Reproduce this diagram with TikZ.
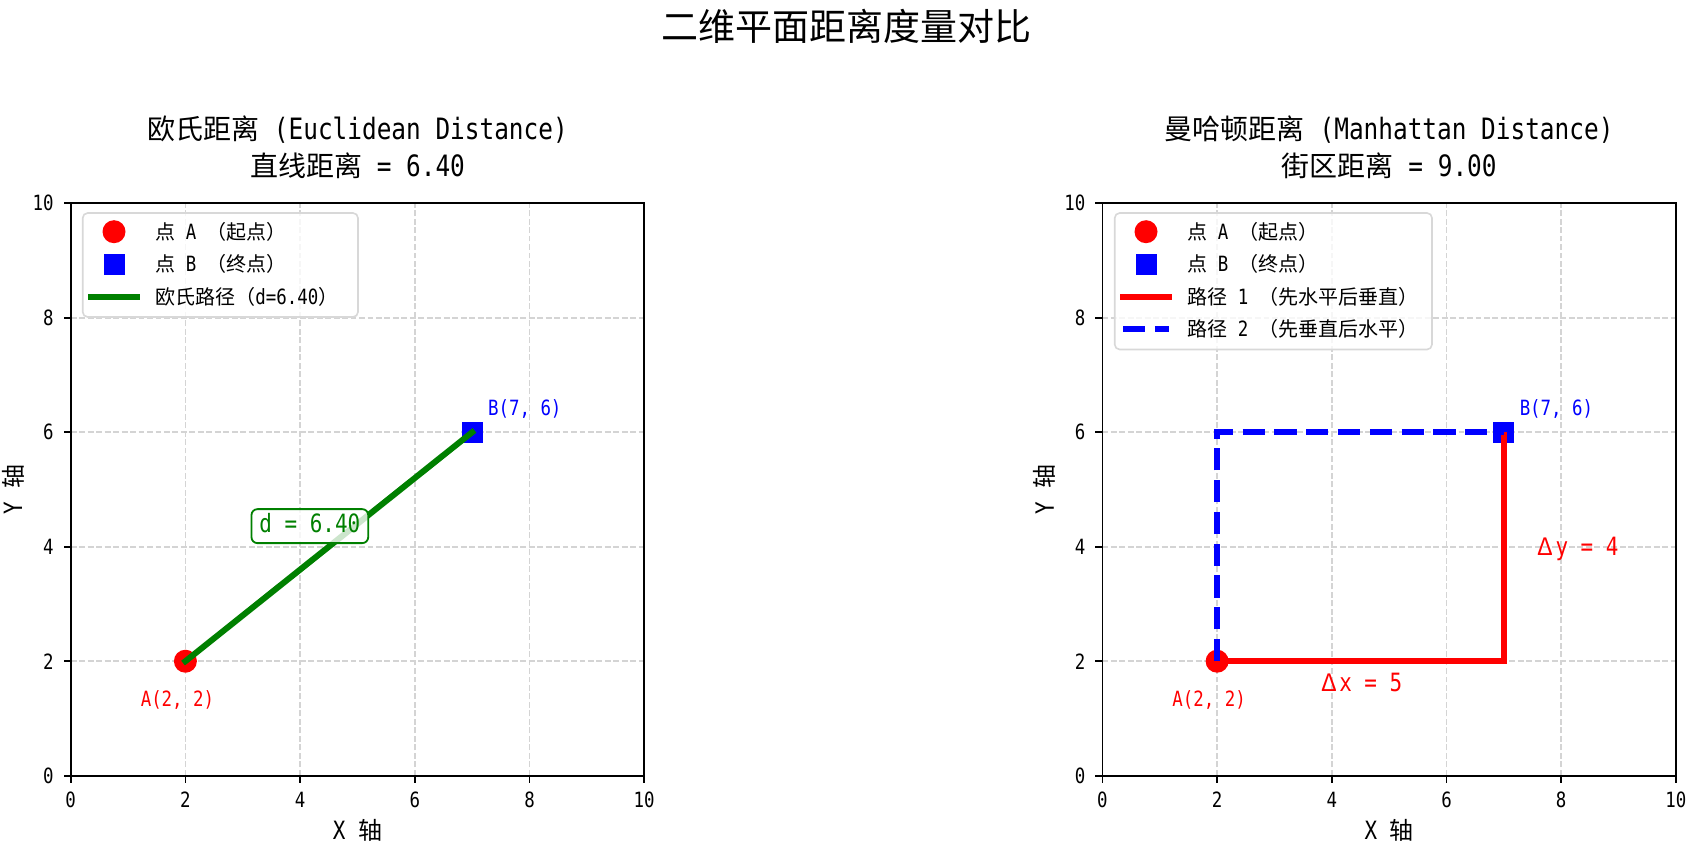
\documentclass[tikz,border=0pt]{standalone}
\usepackage{fontspec}
\setmainfont{DejaVu Sans Mono}[FakeStretch=0.83, Scale=1.05]
\newfontfamily\cjk{Noto Sans CJK SC}
\definecolor{mplgreen}{RGB}{0,128,0}
\definecolor{gridc}{RGB}{212,212,212}
\definecolor{legc}{RGB}{216,216,216}
\tikzset{
  gridline/.style={gridc, line width=0.8pt, dash pattern=on 2.96pt off 1.28pt},
  framel/.style={black, line width=0.8pt},
  ticklab/.style={font=\fontsize{10}{12}\selectfont, inner sep=0pt},
  axlab/.style={font=\fontsize{12}{14}\selectfont, inner sep=0pt},
  ttl/.style={font=\fontsize{14}{17}\selectfont, inner sep=0pt},
  suptl/.style={font=\fontsize{18.5}{22}\selectfont, inner sep=0pt},
  ptA/.style={circle, fill=red, minimum size=11.5pt, inner sep=0pt},
  ptB/.style={rectangle, fill=blue, minimum size=10.5pt, inner sep=0pt},
  legbox/.style={rounded corners=2.5pt, fill=white, fill opacity=0.8, draw=legc, line width=0.8pt},
  legtxt/.style={font=\fontsize{10}{12}\selectfont, anchor=west, inner sep=0pt},
  ptlab/.style={font=\fontsize{10}{12}\selectfont, inner sep=0pt},
  dlab/.style={font=\fontsize{12}{14}\selectfont, inner sep=0pt},
  thick3/.style={line width=3pt},
  dash3/.style={line width=3pt, dash pattern=on 11.1pt off 4.8pt},
}
\newcommand\DrawMyAxes[1]{%
  \foreach \v in {2,4,6,8} {
    \draw[gridline] (\v,0) -- (\v,10);
    \draw[gridline] (0,\v) -- (10,\v);
  }
  \draw[framel] (0,0) rectangle (10,10);
  \foreach \v in {0,2,4,6,8,10} {
    \draw[framel] (\v,0) -- ++(0,-3.5pt);
    \draw[framel] (0,\v) -- ++(-3.5pt,0);
    \node[ticklab] (#1xt\v) at ([yshift=-12pt]\v,0) {\v};
    \node[ticklab, anchor=east] (#1yt\v) at ([xshift=-8.3pt]0,\v) {\v};
  }
  \node[axlab] (#1xl) at ([yshift=-27.15pt]5,0) {X {\cjk 轴}};
  \node[axlab, rotate=90] (#1yl) at ([xshift=-28.85pt]0,5) {Y {\cjk 轴}};
}
\begin{document}
\begin{tikzpicture}[x=0.5pt, y=-0.5pt]
\useasboundingbox (0,0) rectangle (1692,850);
\fill[white] (0,0) rectangle (1692,850);

% super title
\node[suptl] (sup) at (846,26) {\cjk 二维平面距离度量对比};

% subplot titles
\node[ttl] (Lt1) at (357.5,130) {{\cjk 欧氏距离} (Euclidean Distance)};
\node[ttl] (Lt2) at (357.5,166) {{\cjk 直线距离} = 6.40};
\node[ttl] (Rt1) at (1389.2,130) {{\cjk 曼哈顿距离} (Manhattan Distance)};
\node[ttl] (Rt2) at (1389.2,166) {{\cjk 街区距离} = 9.00};

% ---------- left axes ----------
\begin{scope}[shift={(70.7,775.7)}, x=28.675pt, y=28.62pt]
  \DrawMyAxes{L}
  \node[ptA] (LA) at (2,2) {};
  \node[ptB] (LB) at (7,6) {};
  \draw[mplgreen, thick3, line cap=rect] (LA.center) -- (LB.center);
  \node[ptlab, text=red] (LAl) at (1.862,1.322) {A(2, 2)};
  \node[ptlab, text=blue, anchor=west] (LBl) at (7.27,6.41) {B(7, 6)};
  \node[dlab, text=mplgreen, draw=mplgreen, line width=0.9pt, fill=white, fill opacity=0.8, text opacity=1,
        rounded corners=3pt, inner xsep=4pt, inner ysep=3.2pt, text height=8.6pt, text depth=2pt] (Ld) at (4.17,4.36) {d = 6.40};
\end{scope}

% ---------- right axes ----------
\begin{scope}[shift={(1102.4,775.7)}, x=28.675pt, y=28.62pt]
  \DrawMyAxes{R}
  \node[ptA] (RA) at (2,2) {};
  \node[ptB] (RB) at (7,6) {};
  \draw[red, thick3] (RA.center) -| (RB.center);
  \draw[blue, dash3] (RA.center) |- (RB.center);
  \node[ptlab, text=red] (RAl) at (1.862,1.322) {A(2, 2)};
  \node[ptlab, text=blue, anchor=west] (RBl) at (7.27,6.41) {B(7, 6)};
  \node[dlab, text=red] (Rdx) at (4.52,1.62) {{\cjk Δ}\hspace{0.1em}x = 5};
  \node[dlab, text=red] (Rdy) at (8.29,3.97) {{\cjk Δ}\hspace{0.1em}y = 4};
\end{scope}

% ---------- left legend ----------
\draw[legbox] (82.7,213) rectangle (358,317);
\node[ptA] (LgA) at (114,231.7) {};
\node[legtxt] (LgAt) at (155,231.7) {{\cjk 点} A {\cjk （起点）}};
\node[ptB] (LgB) at (114,264.2) {};
\node[legtxt] (LgBt) at (155,264.2) {{\cjk 点} B {\cjk （终点）}};
\coordinate (LgL1) at (91,296.7);
\coordinate (LgL2) at (137,296.7);
\draw[mplgreen, thick3, line cap=rect] (LgL1) -- (LgL2);
\node[legtxt] (LgLt) at (155,296.7) {{\cjk 欧氏路径（}d=6.40{\cjk ）}};

% ---------- right legend ----------
\draw[legbox] (1114.7,213) rectangle (1432,349.5);
\node[ptA] (RgA) at (1146,231.7) {};
\node[legtxt] (RgAt) at (1187,231.7) {{\cjk 点} A {\cjk （起点）}};
\node[ptB] (RgB) at (1146,264.2) {};
\node[legtxt] (RgBt) at (1187,264.2) {{\cjk 点} B {\cjk （终点）}};
\coordinate (RgP1a) at (1123,296.7);
\coordinate (RgP1b) at (1169,296.7);
\draw[red, thick3, line cap=rect] (RgP1a) -- (RgP1b);
\node[legtxt] (RgP1t) at (1187,296.7) {{\cjk 路径} 1 {\cjk （先水平后垂直）}};
\coordinate (RgP2a) at (1123,329.2);
\coordinate (RgP2b) at (1169,329.2);
\draw[blue, dash3] (RgP2a) -- (RgP2b);
\node[legtxt] (RgP2t) at (1187,329.2) {{\cjk 路径} 2 {\cjk （先垂直后水平）}};
\end{tikzpicture}
\end{document}
